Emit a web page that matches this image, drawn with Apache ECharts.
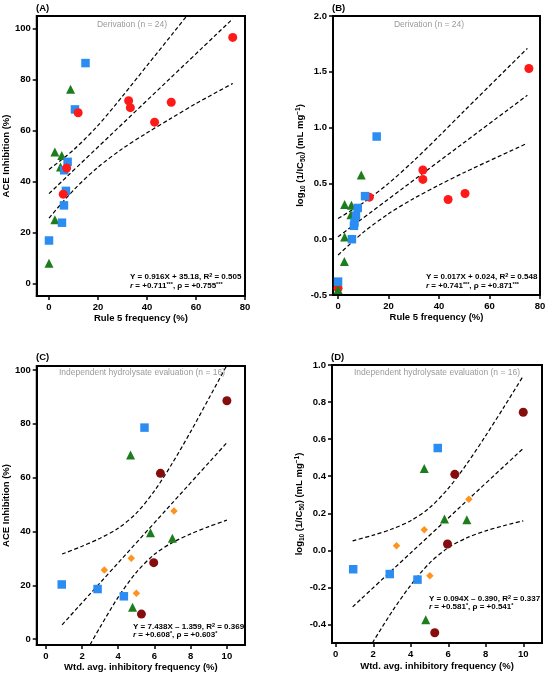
<!DOCTYPE html>
<html>
<head>
<meta charset="utf-8">
<script src="https://cdn.jsdelivr.net/npm/echarts@6/dist/echarts.min.js"></script>
<style>
html, body { margin: 0; padding: 0; background: #fff; }
#chart { width: 550px; height: 676px; }
</style>
</head>
<body>
<div id="chart"></div>
<script>
// ---- data ----
// (A) ACE inhibition vs rule 5 frequency
const aRed = [[75.0, 96.6], [32.5, 71.7], [33.2, 69.0], [49.9, 71.1], [43.1, 63.3], [11.9, 67.0], [7.2, 45.3], [5.8, 35.0]];
const aBlue = [[14.9, 86.5], [10.6, 68.3], [7.6, 47.7], [6.2, 44.4], [6.9, 36.3], [6.1, 30.6], [5.3, 23.8], [0, 16.8]];
const aGreen = [[8.8, 76.2], [2.4, 51.6], [5.2, 50.2], [4.7, 45.7], [2.4, 25.0], [0, 7.9]];
const aFit = [[0, 35.2], [75, 103.9]];
const aUpper = [[0, 44.7], [10, 52.4], [20, 62.0], [30, 73.5], [40, 85.5], [50, 97.5], [60, 109.6]];
const aLower = [[0, 25.6], [10, 36.6], [20, 45.6], [30, 52.9], [40, 59.1], [50, 64.9], [60, 70.6], [75, 78.5]];

// (B) log10(1/IC50) vs rule 5 frequency
const bRed = [[75.6, 1.53], [33.6, 0.62], [33.6, 0.536], [50.3, 0.41], [43.6, 0.356], [12.4, 0.377], [0, -0.44]];
const bBlue = [[15.3, 0.92], [10.7, 0.386], [7.8, 0.28], [7.1, 0.21], [6.5, 0.15], [6.3, 0.12], [5.5, 0.0], [0, -0.38]];
const bGreen = [[9.2, 0.575], [2.6, 0.31], [5.3, 0.305], [5.1, 0.22], [2.6, 0.02], [2.5, -0.2], [0, -0.45]];
const bFit = [[0, 0.022], [75, 1.29]];
const bUpper = [[0, 0.185], [10, 0.327], [20, 0.5], [30, 0.703], [40, 0.923], [50, 1.15], [75, 1.71]];
const bLower = [[0, -0.142], [10, 0.061], [20, 0.228], [30, 0.365], [40, 0.485], [50, 0.598], [75, 0.86]];

// (C) ACE inhibition vs weighted avg. inhibitory frequency
const cBlue = [[5.45, 78.6], [0.88, 20.3], [2.86, 18.6], [4.31, 15.9]];
const cGreen = [[4.68, 68.4], [5.78, 39.5], [6.99, 37.5], [4.79, 11.8]];
const cMaroon = [[10.0, 88.6], [6.33, 61.6], [5.96, 28.4], [5.28, 9.3]];
const cOrange = [[7.08, 47.6], [4.72, 30.0], [3.23, 25.7], [5.0, 17.0]];
const cFit = [[0.9, 5.3], [10, 73.0]];
const cUpper = [[0.9, 31.6], [2, 34.5], [3, 37.5], [4, 41.2], [5, 46.8], [6, 55.1], [7, 65.5], [8, 77.1], [9, 89.4], [10, 101.8]];
const cLower = [[2.45, -2.0], [3, 4.45], [4, 15.6], [5, 24.8], [6, 31.5], [7, 35.9], [8, 39.1], [9, 41.8], [10, 44.2]];

// (D) log10(1/IC50) vs weighted avg. inhibitory frequency
const dBlue = [[5.44, 0.552], [0.93, -0.102], [2.88, -0.128], [4.36, -0.158]];
const dGreen = [[4.72, 0.442], [5.8, 0.169], [6.99, 0.165], [4.8, -0.374]];
const dMaroon = [[10.0, 0.745], [6.35, 0.41], [5.96, 0.034], [5.28, -0.445]];
const dOrange = [[7.1, 0.275], [4.72, 0.111], [3.24, 0.025], [5.02, -0.137]];
const dFit = [[0.9, -0.305], [10, 0.55]];
const dUpper = [[0.9, 0.051], [2, 0.082], [3, 0.115], [4, 0.16], [5, 0.229], [6, 0.334], [7, 0.468], [8, 0.619], [9, 0.778], [10, 0.941]];
const dLower = [[1.95, -0.5], [3, -0.331], [4, -0.188], [5, -0.069], [6, 0.014], [7, 0.068], [8, 0.105], [9, 0.134], [10, 0.159]];

// tick labels
const ticksRule5 = [0, 20, 40, 60, 80];
const ticksAce = [0, 20, 40, 60, 80, 100];
const ticksLogB = [-0.5, 0, 0.5, 1.0, 1.5, 2.0];
const ticksWtd = [0, 2, 4, 6, 8, 10];
const ticksLogD = [-0.4, -0.2, 0, 0.2, 0.4, 0.6, 0.8, 1.0];

const FONT = 'Liberation Sans, Arial, Helvetica, sans-serif';
const RED = '#ff1a1a', BLUE = '#2b8cf2', GREEN = '#1d7d1d', MAROON = '#860d0d', ORANGE = '#ff931f';

let myChart = echarts.init(document.getElementById('chart'));

function makeAxis(grid, min, max, ticks, name, nameGap, fmt) {
    return {
        type: 'value',
        gridIndex: grid,
        min: min,
        max: max,
        name: name,
        nameLocation: 'middle',
        nameGap: nameGap,
        nameTextStyle: {
            fontFamily: FONT, fontWeight: 'bold', fontSize: 9.5, color: '#000',
            rich: {
                n: { fontFamily: FONT, fontWeight: 'bold', fontSize: 9.5, lineHeight: 12, verticalAlign: 'middle' },
                s: { fontFamily: FONT, fontWeight: 'bold', fontSize: 6.5, lineHeight: 6, verticalAlign: 'bottom' },
                p: { fontFamily: FONT, fontWeight: 'bold', fontSize: 6.5, lineHeight: 6, verticalAlign: 'top' }
            }
        },
        axisLine: { show: true, onZero: false, lineStyle: { color: '#000', width: 2 } },
        axisTick: { show: true, inside: false, length: 4, lineStyle: { color: '#000', width: 1.5 }, customValues: ticks },
        axisLabel: {
            show: true, margin: 6, color: '#000', fontFamily: FONT, fontWeight: 'bold', fontSize: 9.5,
            customValues: ticks,
            formatter: fmt || function (v) { return String(v); }
        },
        splitLine: { show: false }
    };
}
let oneDec = function (v) { return v.toFixed(1); };

function dashed(xi, data) {
    return {
        type: 'line', xAxisIndex: xi, yAxisIndex: xi, data: data,
        symbol: 'none', smooth: 0.3, clip: true, z: 2, silent: true,
        lineStyle: { color: '#000', width: 1.2, type: [4, 2.5] }
    };
}
function dots(xi, data, symbol, color, size) {
    return {
        type: 'scatter', xAxisIndex: xi, yAxisIndex: xi, data: data,
        symbol: symbol, symbolSize: size, z: 3,
        itemStyle: { color: color, opacity: 1 }
    };
}
function label(x, y, text, extra) {
    return {
        type: 'text', x: x, y: y, z: 10,
        style: Object.assign({
            text: text, fontFamily: FONT, fontWeight: 'bold', fontSize: 8, fill: '#000',
            align: 'left', verticalAlign: 'middle',
            rich: {
                p: { fontFamily: FONT, fontWeight: 'bold', fontSize: 5.5, lineHeight: 5, verticalAlign: 'top', fill: '#000' },
                i: { fontFamily: FONT, fontWeight: 'bold', fontStyle: 'italic', fontSize: 8, lineHeight: 9, fill: '#000' },
                n: { fontFamily: FONT, fontWeight: 'bold', fontSize: 8, lineHeight: 9, fill: '#000' }
            }
        }, extra || {})
    };
}
function grey(x, y, text) {
    return {
        type: 'text', x: x, y: y, z: 10,
        style: { text: text, fontFamily: FONT, fontSize: 8.5, fill: '#9a9a9a', align: 'center', verticalAlign: 'middle' }
    };
}

let logName = '{n|log}{s|10}{n| (1/IC}{s|50}{n|) (mL mg}{p|−1}{n|)}';

let option = {
    animation: false,
    backgroundColor: '#fff',
    grid: [
        { left: 36, top: 16, width: 209, height: 280, show: true, borderColor: '#000', borderWidth: 2, backgroundColor: '#fff' },
        { left: 333, top: 16, width: 207, height: 279, show: true, borderColor: '#000', borderWidth: 2, backgroundColor: '#fff' },
        { left: 36, top: 366, width: 209, height: 279, show: true, borderColor: '#000', borderWidth: 2, backgroundColor: '#fff' },
        { left: 332, top: 365, width: 210, height: 278, show: true, borderColor: '#000', borderWidth: 2, backgroundColor: '#fff' }
    ],
    xAxis: [
        makeAxis(0, -5, 80, ticksRule5, 'Rule 5 frequency (%)', 17),
        makeAxis(1, -2, 80, ticksRule5, 'Rule 5 frequency (%)', 17),
        makeAxis(2, -0.5, 11, ticksWtd, 'Wtd. avg. inhibitory frequency (%)', 17),
        makeAxis(3, -0.2, 11, ticksWtd, 'Wtd. avg. inhibitory frequency (%)', 18)
    ],
    yAxis: [
        makeAxis(0, -5, 105, ticksAce, 'ACE Inhibition (%)', 22),
        makeAxis(1, -0.5, 2.0, ticksLogB, logName, 25, oneDec),
        makeAxis(2, -2.2, 101.5, ticksAce, 'ACE Inhibition (%)', 22),
        makeAxis(3, -0.5, 1.0, ticksLogD, logName, 24, oneDec)
    ],
    series: [
        dashed(0, aUpper), dashed(0, aFit), dashed(0, aLower),
        dots(0, aGreen, 'triangle', GREEN, 9),
        dots(0, aBlue, 'rect', BLUE, 8.5),
        dots(0, aRed, 'circle', RED, 9),

        dashed(1, bUpper), dashed(1, bFit), dashed(1, bLower),
        dots(1, bRed, 'circle', RED, 9),
        dots(1, bGreen, 'triangle', GREEN, 9),
        dots(1, bBlue, 'rect', BLUE, 8.5),

        dashed(2, cUpper), dashed(2, cFit), dashed(2, cLower),
        dots(2, cBlue, 'rect', BLUE, 8.5),
        dots(2, cGreen, 'triangle', GREEN, 9),
        dots(2, cMaroon, 'circle', MAROON, 9),
        dots(2, cOrange, 'diamond', ORANGE, 7.5),

        dashed(3, dUpper), dashed(3, dFit), dashed(3, dLower),
        dots(3, dBlue, 'rect', BLUE, 8.5),
        dots(3, dGreen, 'triangle', GREEN, 9),
        dots(3, dMaroon, 'circle', MAROON, 9),
        dots(3, dOrange, 'diamond', ORANGE, 7.5)
    ],
    graphic: [
        label(36, 8, '(A)', { fontSize: 9.5 }),
        label(332, 8, '(B)', { fontSize: 9.5 }),
        label(36, 357, '(C)', { fontSize: 9.5 }),
        label(331, 357, '(D)', { fontSize: 9.5 }),

        grey(132, 25, 'Derivation (n = 24)'),
        grey(429, 25, 'Derivation (n = 24)'),
        grey(142, 373, 'Independent hydrolysate evaluation (n = 16)'),
        grey(437, 373, 'Independent hydrolysate evaluation (n = 16)'),

        label(130, 277, '{n|Y = 0.916X + 35.18, R}{p|2}{n| = 0.505}'),
        label(130, 286, '{i|r}{n| = +0.711}{p|***}{n|, ρ = +0.755}{p|***}'),
        label(426, 277, '{n|Y = 0.017X + 0.024, R}{p|2}{n| = 0.548}'),
        label(426, 286, '{i|r}{n| = +0.741}{p|***}{n|, ρ = +0.871}{p|***}'),
        label(133, 627, '{n|Y = 7.438X – 1.359, R}{p|2}{n| = 0.369}'),
        label(133, 635, '{i|r}{n| = +0.608}{p|*}{n|, ρ = +0.603}{p|*}'),
        label(429, 599, '{n|Y = 0.094X – 0.390, R}{p|2}{n| = 0.337}'),
        label(429, 607, '{i|r}{n| = +0.581}{p|*}{n|, ρ = +0.541}{p|*}')
    ]
};

myChart.setOption(option);
</script>
</body>
</html>
